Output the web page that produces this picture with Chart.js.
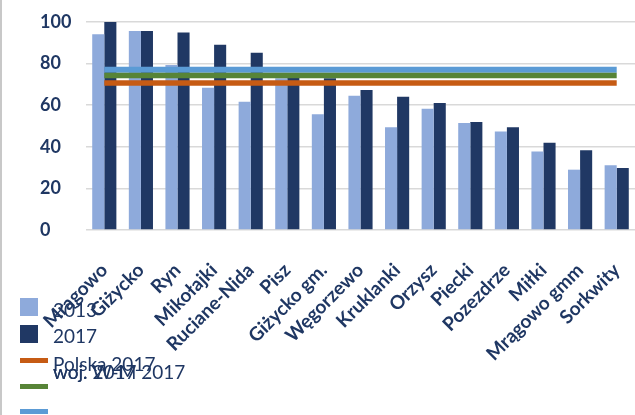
<!DOCTYPE html>
<html>
<head>
<meta charset="utf-8">
<script src="https://cdn.jsdelivr.net/npm/chart.js@4"></script>
<style>
  body { margin: 0; background: #fff; }
  #wrap { position: relative; width: 635px; height: 415px; overflow: hidden; }
  #edge { position: absolute; left: 0; top: 0; width: 2px; height: 415px; background: #c8c8c8; }
  .lg { position: absolute; font-family: Lato, sans-serif; font-size: 19px; color: #1f3763; line-height: 1; white-space: nowrap; }
  .mk { position: absolute; }
</style>
</head>
<body>
<div id="wrap">
  <canvas id="chart"></canvas>
  <div id="edge"></div>
  <div id="legend"></div>
</div>
<script>
const categories = ['Mrągowo', 'Giżycko', 'Ryn', 'Mikołajki', 'Ruciane-Nida', 'Pisz', 'Giżycko gm.', 'Węgorzewo', 'Kruklanki', 'Orzysz', 'Piecki', 'Pozezdrze', 'Miłki', 'Mrągowo gmm', 'Sorkwity'];
const values2013 = [94.1, 95.7, 79.3, 68.4, 61.7, 73, 55.6, 64.6, 49.4, 58.3, 51.4, 47.4, 37.8, 29.0, 31.1];
const values2017 = [100, 95.7, 94.9, 89.1, 85.2, 75, 72.9, 67.3, 64.1, 61.1, 51.9, 49.4, 42.0, 38.3, 29.8];
const polska2017 = 70.7;
const woj2017 = 74.3;
const wm2017 = 77;
const yTicks = [0, 20, 40, 60, 80, 100];

const navy = '#1f3763';

const flat = (v) => categories.map(() => v);

const datasets = [
  { label: '2013', data: values2013, backgroundColor: '#8eaadb', order: 2 },
  { label: '2017', data: values2017, backgroundColor: '#203864', order: 2 },
  { type: 'line', label: 'Polska 2017', data: flat(polska2017), borderColor: '#c65b14', borderWidth: 5.5, pointRadius: 0, order: 0 },
  { type: 'line', label: 'woj. 2017', data: flat(woj2017), borderColor: '#578437', borderWidth: 5.5, pointRadius: 0, order: 0 },
  { type: 'line', label: 'woj. W-M 2017', data: flat(wm2017), borderColor: '#5b9bd5', borderWidth: 6, pointRadius: 0, order: 0 }
];

new Chart(document.getElementById('chart'), {
  type: 'bar',
  data: { labels: categories, datasets: datasets },
  options: {
    responsive: true,
    maintainAspectRatio: false,
    animation: false,
    categoryPercentage: 0.66,
    barPercentage: 1,
    layout: { padding: { left: 40, top: 22, right: 0, bottom: 0 } },
    plugins: { legend: { display: false }, tooltip: { enabled: false } },
    scales: {
      x: {
        grid: { display: false, drawTicks: false },
        border: { display: false },
        afterFit: (s) => { s.height = 185; s.paddingLeft = 0; s.paddingRight = 0; },
        ticks: {
          autoSkip: false,
          maxRotation: 45,
          minRotation: 45,
          padding: 29,
          color: navy,
          font: { family: 'Lato', size: 19, weight: 'bold' }
        }
      },
      y: {
        min: 0,
        max: 100,
        afterBuildTicks: (s) => { s.ticks = yTicks.map(v => ({ value: v })); },
        afterFit: (s) => { s.width = 46; },
        grid: { color: '#d9d9d9', lineWidth: 1.5, drawTicks: false },
        border: { display: false },
        ticks: {
          crossAlign: 'far',
          color: navy,
          font: { family: 'Lato', size: 18, weight: 'bold' }
        }
      }
    }
  }
});

// legend drawn as HTML, overlapping like in the source picture
const legendItems = [
  { ds: 0, kind: 'box', mTop: 298, tTop: 300 },
  { ds: 1, kind: 'box', mTop: 325, tTop: 326 },
  { ds: 2, kind: 'line', mTop: 358, tTop: 354 },
  { ds: 3, kind: 'line', mTop: 384, tTop: 362 },
  { ds: 4, kind: 'line', mTop: 409, tTop: 362 }
];
const lg = document.getElementById('legend');
legendItems.forEach(it => {
  const d = datasets[it.ds];
  const m = document.createElement('div');
  m.className = 'mk';
  m.style.left = '20px';
  m.style.top = it.mTop + 'px';
  if (it.kind === 'box') {
    m.style.width = '18px'; m.style.height = '18px';
    m.style.background = d.backgroundColor;
  } else {
    m.style.width = '28px'; m.style.height = '5px';
    m.style.background = d.borderColor;
  }
  lg.appendChild(m);
  const t = document.createElement('div');
  t.className = 'lg';
  t.style.left = '53px';
  t.style.top = it.tTop + 'px';
  t.textContent = d.label;
  lg.appendChild(t);
});
</script>
</body>
</html>
